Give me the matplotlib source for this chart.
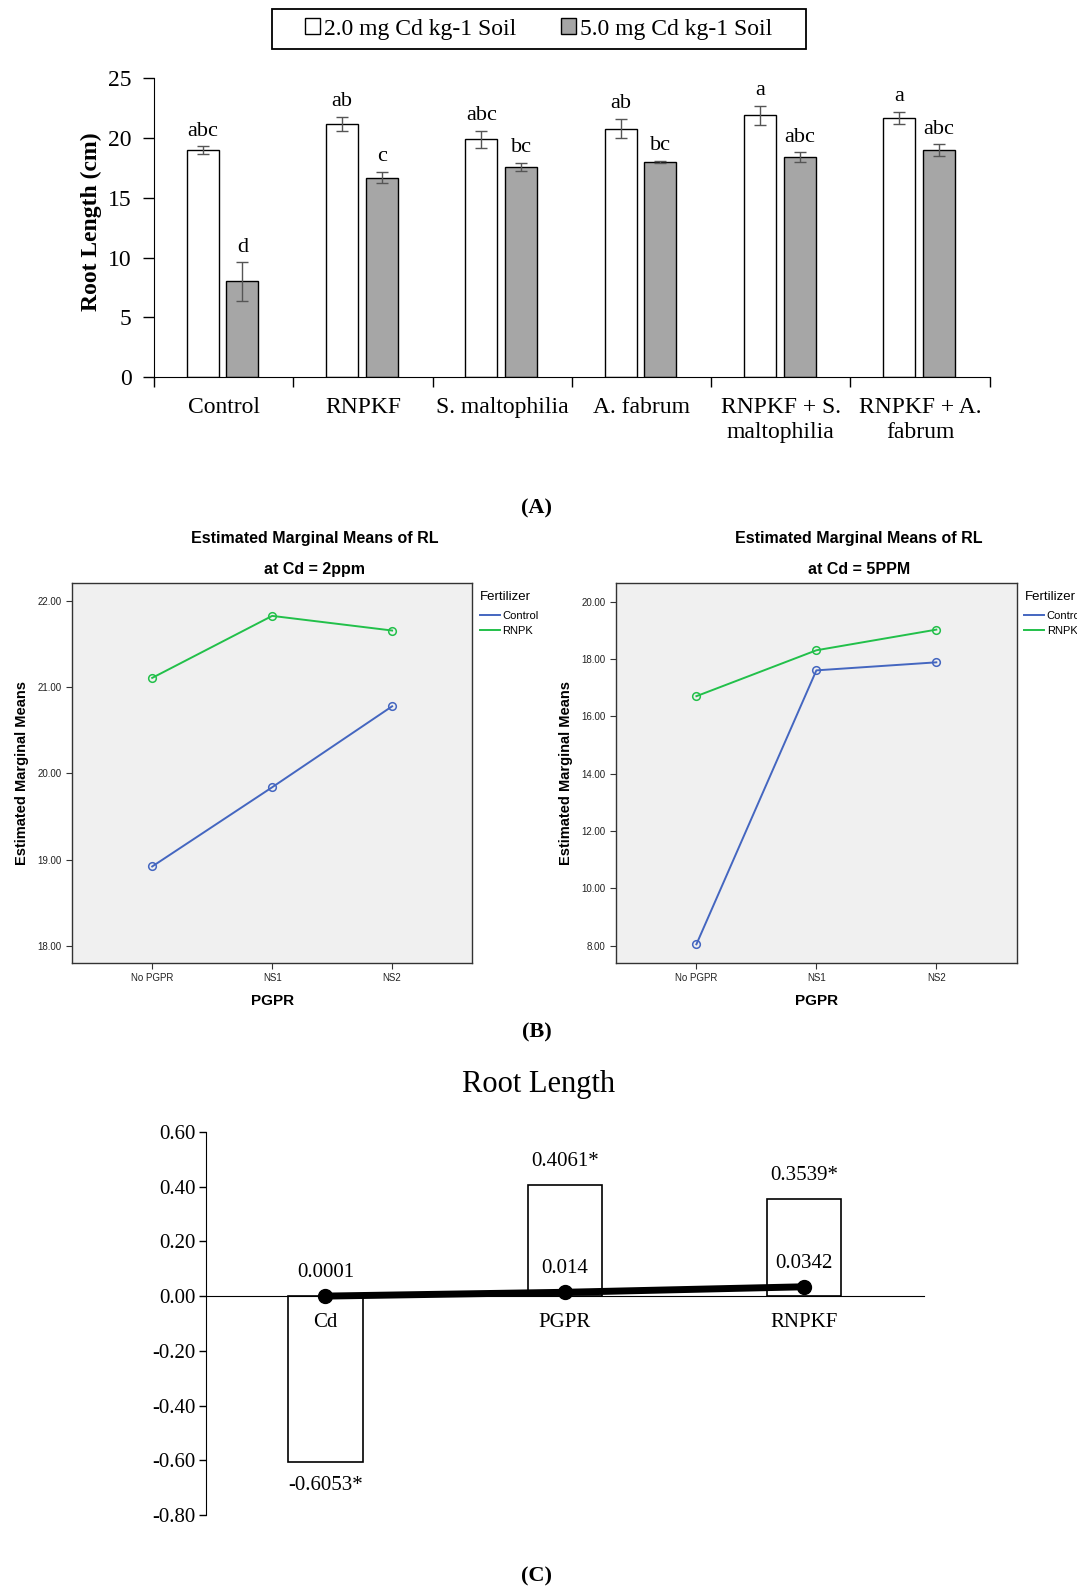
import numpy as np
import matplotlib
matplotlib.use("Agg")
import matplotlib.pyplot as plt
from matplotlib.patches import Patch, Rectangle

plt.rcParams['font.family'] = ['Liberation Serif', 'DejaVu Serif']
SANS = ['Liberation Sans', 'DejaVu Sans']

# ---- Panel A data ----
treatments = ["Control", "RNPKF", "S. maltophilia", "A. fabrum",
              "RNPKF + S.\nmaltophilia", "RNPKF + A.\nfabrum"]
cd2_mean = [19.0, 21.2, 19.9, 20.8, 21.9, 21.7]
cd2_err = [0.3, 0.6, 0.7, 0.8, 0.8, 0.5]
cd5_mean = [8.0, 16.7, 17.6, 18.0, 18.4, 19.0]
cd5_err = [1.6, 0.5, 0.35, 0.1, 0.4, 0.5]
cd2_letters = ["abc", "ab", "abc", "ab", "a", "a"]
cd5_letters = ["d", "c", "bc", "bc", "abc", "abc"]
legend_labels = ["2.0 mg Cd kg-1 Soil", "5.0 mg Cd kg-1 Soil"]

# ---- Panel B data ----
pgpr_levels = ["No PGPR", "NS1", "NS2"]
cd2_control = [18.92, 19.84, 20.78]
cd2_rnpk = [21.11, 21.83, 21.66]
cd5_control = [8.05, 17.60, 17.88]
cd5_rnpk = [16.70, 18.30, 19.02]

# ---- Panel C data ----
factors = ["Cd", "PGPR", "RNPKF"]
effect_bars = [-0.6053, 0.4061, 0.3539]
bar_labels = ["-0.6053*", "0.4061*", "0.3539*"]
effect_line = [0.0001, 0.014, 0.0342]
line_labels = ["0.0001", "0.014", "0.0342"]

fig = plt.figure(figsize=(10.77, 15.89), dpi=100)

# ================= Panel A =================
axA = fig.add_axes([0.143, 0.7627, 0.776, 0.188])
x = np.arange(len(treatments))
gray = "#a6a6a6"
axA.bar(x - 0.15, cd2_mean, 0.23, color="white", edgecolor="black", linewidth=1,
        yerr=cd2_err, error_kw=dict(ecolor="#555555", capsize=4, elinewidth=1, capthick=1))
axA.bar(x + 0.135, cd5_mean, 0.23, color=gray, edgecolor="black", linewidth=1,
        yerr=cd5_err, error_kw=dict(ecolor="#555555", capsize=4, elinewidth=1, capthick=1))
for i in range(len(treatments)):
    axA.annotate(cd2_letters[i], (x[i] - 0.15, cd2_mean[i] + cd2_err[i]), xytext=(0, 4),
                 textcoords="offset points", ha="center", va="bottom", fontsize=16)
    axA.annotate(cd5_letters[i], (x[i] + 0.135, cd5_mean[i] + cd5_err[i]), xytext=(0, 4),
                 textcoords="offset points", ha="center", va="bottom", fontsize=16)
axA.set_xlim(-0.5, 5.5)
axA.set_ylim(0, 25)
axA.set_yticks(range(0, 26, 5))
axA.set_xticks(x)
axA.set_xticklabels(treatments, fontsize=17, linespacing=1.3)
axA.set_xticks(np.arange(-0.5, 6, 1), minor=True)
axA.tick_params(axis="x", which="major", length=0, pad=14)
axA.tick_params(axis="x", which="minor", length=7, width=1)
axA.tick_params(axis="y", labelsize=17, length=8, width=1, pad=8)
axA.spines["top"].set_visible(False)
axA.spines["right"].set_visible(False)
axA.set_ylabel("Root Length (cm)", fontsize=17, fontweight="bold")
axA.yaxis.set_label_coords(-0.062, 0.52)

handles = [Patch(facecolor="white", edgecolor="black"), Patch(facecolor=gray, edgecolor="black")]
leg = fig.legend(handles, legend_labels, loc="center", bbox_to_anchor=(0.5, 0.9817), ncol=2,
                 fontsize=17, frameon=False,
                 handlelength=0.65, handleheight=0.65, handletextpad=0.15, columnspacing=1.9)
fig.patches.append(Rectangle((272 / 1077, 1 - 49 / 1589), 534 / 1077, 40 / 1589,
                             transform=fig.transFigure, fill=False, edgecolor="black", lw=1.3))
fig.text(0.4986, 0.680, "(A)", ha="center", va="center", fontsize=16, fontweight="bold")

# ================= Panel B =================
blue = "#4466c0"
green = "#22c04a"
panels = [
    ([0.0667, 0.394, 0.372, 0.239], cd2_control, cd2_rnpk, (17.8, 22.21), np.arange(18, 22.5, 1), "at Cd = 2ppm"),
    ([0.572, 0.394, 0.372, 0.239], cd5_control, cd5_rnpk, (7.4, 20.64), np.arange(8, 20.5, 2), "at Cd = 5PPM"),
]
xp = np.arange(len(pgpr_levels))
for rect, ctrl, rnpk, ylim, yt, sub in panels:
    ax = fig.add_axes(rect)
    ax.set_facecolor("#f0f0f0")
    ax.plot(xp, ctrl, "-o", color=blue, lw=1.4, ms=5.5, mfc="none", mew=1.1, label="Control")
    ax.plot(xp, rnpk, "-o", color=green, lw=1.4, ms=5.5, mfc="none", mew=1.1, label="RNPK")
    ax.set_xlim(-0.67, 2.67)
    ax.set_ylim(*ylim)
    ax.set_yticks(yt)
    ax.set_yticklabels(["%.2f" % v for v in yt], fontsize=7, family=SANS)
    ax.set_xticks(xp)
    ax.set_xticklabels(pgpr_levels, fontsize=7, family=SANS)
    ax.tick_params(length=4, width=0.8, color="#333333", labelcolor="#222222")
    for s in ax.spines.values():
        s.set_color("#333333")
        s.set_linewidth(1.0)
    ax.set_xlabel("PGPR", fontsize=11, fontweight="bold", family=SANS, labelpad=8)
    ax.set_ylabel("Estimated Marginal Means", fontsize=10.5, fontweight="bold", family=SANS, labelpad=6)
    ax.text(0.606, 1.117, "Estimated Marginal Means of RL", transform=ax.transAxes,
            ha="center", va="center", fontsize=11.5, fontweight="bold", family=SANS)
    ax.text(0.606, 1.037, sub, transform=ax.transAxes,
            ha="center", va="center", fontsize=11.5, fontweight="bold", family=SANS)
    lg = ax.legend(loc="upper left", bbox_to_anchor=(1.0, 1.0), frameon=False, title="Fertilizer",
                   prop=dict(family=SANS, size=8), handlelength=1.8, handletextpad=0.2,
                   borderaxespad=0.3, labelspacing=0.45, alignment="left")
    lg.get_title().set_fontfamily(SANS)
    lg.get_title().set_fontsize(9.5)
    lg._legend_box.sep = 6
    for h in lg.legend_handles:
        h.set_marker("")
fig.text(0.4986, 0.3505, "(B)", ha="center", va="center", fontsize=16, fontweight="bold")

# ================= Panel C =================
axC = fig.add_axes([0.191, 0.0466, 0.667, 0.241])
axC.spines["top"].set_visible(False)
axC.spines["right"].set_visible(False)
axC.spines["bottom"].set_position(("data", 0))
axC.spines["bottom"].set_zorder(3)
xc = np.arange(len(factors))
axC.bar(xc, effect_bars, 0.31, color="white", edgecolor="black", linewidth=1.2, zorder=2)
axC.plot(xc, effect_line, "-o", color="black", lw=5, ms=10, zorder=4)
for i in range(len(factors)):
    off = 10 if effect_bars[i] > 0 else -10
    axC.annotate(bar_labels[i], (xc[i], effect_bars[i]), xytext=(0, off), textcoords="offset points",
                 ha="center", va="bottom" if off > 0 else "top", fontsize=15)
    axC.annotate(line_labels[i], (xc[i], effect_line[i]), xytext=(0, 10), textcoords="offset points",
                 ha="center", va="bottom", fontsize=15)
axC.set_xlim(-0.5, 2.5)
axC.set_ylim(-0.8, 0.6)
yc = np.round(np.arange(-0.8, 0.61, 0.2), 2)
axC.set_yticks(yc)
axC.set_yticklabels(["%.2f" % (v + 0.0) for v in yc])
axC.set_xticks(xc)
axC.set_xticklabels(factors)
axC.tick_params(axis="x", length=0, pad=12, labelsize=15)
axC.tick_params(axis="y", length=5, width=1, pad=2, labelsize=15)
axC.xaxis.set_zorder(5)
fig.text(0.5, 0.3178, "Root Length", ha="center", va="center", fontsize=22)
fig.text(0.4986, 0.0078, "(C)", ha="center", va="center", fontsize=16, fontweight="bold")

fig.savefig("out.png", dpi=100)
